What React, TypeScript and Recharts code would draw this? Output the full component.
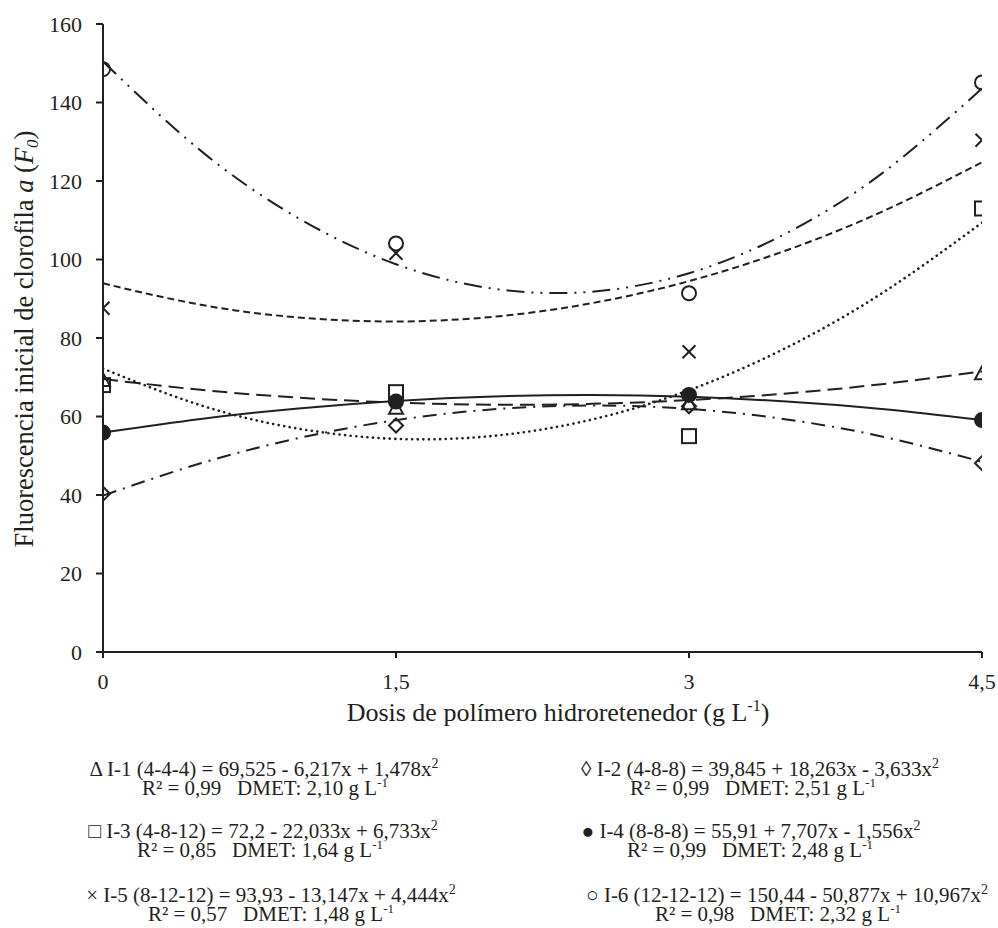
import React from 'react';
import { ComposedChart, Line, Scatter, XAxis, YAxis } from 'recharts';

// observed means at each dose
const DOSES = [0, 1.5, 3, 4.5];
const OBS_I1 = [69.3, 62.2, 63.4, 71.0];
const OBS_I2 = [40.3, 57.7, 62.6, 48.1];
const OBS_I3 = [68.0, 66.2, 55.0, 113.0];
const OBS_I4 = [55.9, 63.8, 65.5, 59.1];
const OBS_I5 = [87.6, 101.6, 76.5, 130.4];
const OBS_I6 = [148.5, 104.1, 91.4, 145.1];

// fitted curves
const FIT_X = [0, 0.5, 1, 1.5, 2, 2.5, 3, 3.5, 4, 4.5];
const FIT_I1 = [69.53, 66.79, 64.79, 63.53, 63.0, 63.22, 64.18, 65.87, 68.31, 71.48];
const FIT_I2 = [39.85, 48.07, 54.48, 59.07, 61.84, 62.8, 61.94, 59.26, 54.77, 48.46];
const FIT_I3 = [72.2, 62.87, 56.9, 54.3, 55.07, 59.2, 66.7, 77.56, 91.8, 109.39];
const FIT_I4 = [55.91, 59.37, 62.06, 63.97, 65.1, 65.45, 65.03, 63.82, 61.84, 59.08];
const FIT_I5 = [93.93, 88.47, 85.23, 84.21, 85.41, 88.84, 94.49, 102.35, 112.45, 124.76];
const FIT_I6 = [150.44, 127.74, 110.53, 98.8, 92.55, 91.79, 96.51, 106.72, 122.4, 143.57];

const X_TICKS = [0, 1.5, 3, 4.5];
const Y_TICKS = [0, 20, 40, 60, 80, 100, 120, 140, 160];

const INK = '#231f20';
const FONT = '"Liberation Serif", "Times New Roman", serif';

type Marker = 'triangle' | 'diamond' | 'square' | 'dot' | 'cross' | 'circle';

const SERIES: { key: string; obs: number[]; fit: number[]; dash?: string; cap?: 'round' | 'butt'; marker: Marker }[] = [
  { key: 'I1', obs: OBS_I1, fit: FIT_I1, dash: '15 7', marker: 'triangle' },
  { key: 'I2', obs: OBS_I2, fit: FIT_I2, dash: '14 7 2 7', marker: 'diamond' },
  { key: 'I3', obs: OBS_I3, fit: FIT_I3, dash: '0.1 5.5', cap: 'round', marker: 'square' },
  { key: 'I4', obs: OBS_I4, fit: FIT_I4, marker: 'dot' },
  { key: 'I5', obs: OBS_I5, fit: FIT_I5, dash: '7 4', marker: 'cross' },
  { key: 'I6', obs: OBS_I6, fit: FIT_I6, dash: '18 7 2 7 2 7', marker: 'circle' },
];

function makeShape(marker: Marker) {
  return (props: any) => {
    const { cx, cy } = props;
    const s = { stroke: INK, strokeWidth: 2, fill: 'none' };
    switch (marker) {
      case 'triangle':
        return <path d={`M${cx},${cy - 7}L${cx + 7},${cy + 6}L${cx - 7},${cy + 6}Z`} {...s} />;
      case 'diamond':
        return <path d={`M${cx},${cy - 7}L${cx + 7},${cy}L${cx},${cy + 7}L${cx - 7},${cy}Z`} {...s} />;
      case 'square':
        return <rect x={cx - 7} y={cy - 7} width={14} height={14} {...s} />;
      case 'dot':
        return <circle cx={cx} cy={cy} r={8} fill={INK} />;
      case 'cross':
        return (
          <g {...s}>
            <line x1={cx - 6.5} y1={cy - 6.5} x2={cx + 6.5} y2={cy + 6.5} />
            <line x1={cx - 6.5} y1={cy + 6.5} x2={cx + 6.5} y2={cy - 6.5} />
          </g>
        );
      default:
        return <circle cx={cx} cy={cy} r={7} {...s} />;
    }
  };
}

const SP = '\u00A0\u00A0\u00A0';

// legend blocks: centre of each line, baseline of the equation line
const LEGEND: { cx: number; y: number; eq: string; r2: string; cx2: number }[] = [
  { cx: 264, cx2: 265, y: 776, eq: 'Δ I-1 (4-4-4) = 69,525 - 6,217x + 1,478x', r2: `R² = 0,99${SP}DMET: 2,10 g L` },
  { cx: 263, cx2: 260, y: 838, eq: '□ I-3 (4-8-12) = 72,2 - 22,033x + 6,733x', r2: `R² = 0,85${SP}DMET: 1,64 g L` },
  { cx: 271, cx2: 271, y: 902, eq: '× I-5 (8-12-12) = 93,93 - 13,147x + 4,444x', r2: `R² = 0,57${SP}DMET: 1,48 g L` },
  { cx: 760, cx2: 753, y: 776, eq: '◊ I-2 (4-8-8) = 39,845 + 18,263x - 3,633x', r2: `R² = 0,99${SP}DMET: 2,51 g L` },
  { cx: 751, cx2: 750, y: 838, eq: '● I-4 (8-8-8) = 55,91 + 7,707x - 1,556x', r2: `R² = 0,99${SP}DMET: 2,48 g L` },
  { cx: 787, cx2: 778, y: 902, eq: '○ I-6 (12-12-12) = 150,44 - 50,877x + 10,967x', r2: `R² = 0,98${SP}DMET: 2,32 g L` },
];

export default function App() {
  const axisTick = { fill: INK, fontSize: 22, fontFamily: FONT };
  return (
    <div style={{ position: 'relative', width: 998, height: 928, background: '#fff' }}>
      <style>{'body{margin:0}'}</style>
      <ComposedChart width={998} height={700} margin={{ top: 24, right: 16, left: 43, bottom: 8 }}>
        <XAxis
          dataKey="x"
          type="number"
          domain={[0, 4.5]}
          ticks={X_TICKS}
          height={40}
          tickSize={6}
          tickMargin={15}
          tick={axisTick}
          tickFormatter={(v: number) => String(v).replace('.', ',')}
          axisLine={{ stroke: INK, strokeWidth: 2 }}
          tickLine={{ stroke: INK, strokeWidth: 2 }}
          allowDataOverflow
        />
        <YAxis
          dataKey="y"
          type="number"
          domain={[0, 160]}
          ticks={Y_TICKS}
          width={60}
          tickSize={7}
          tickMargin={14}
          tick={axisTick}
          axisLine={{ stroke: INK, strokeWidth: 2 }}
          tickLine={{ stroke: INK, strokeWidth: 2 }}
          allowDataOverflow
        />
        {SERIES.map((s) => (
          <Line
            key={`fit-${s.key}`}
            data={FIT_X.map((x, i) => ({ x, y: s.fit[i] }))}
            dataKey="y"
            type="natural"
            stroke={INK}
            strokeWidth={s.cap === 'round' ? 2.6 : 2}
            strokeDasharray={s.dash}
            strokeLinecap={s.cap || 'butt'}
            dot={false}
            activeDot={false}
            isAnimationActive={false}
          />
        ))}
        {SERIES.map((s) => (
          <Scatter
            key={`obs-${s.key}`}
            data={DOSES.map((x, i) => ({ x, y: s.obs[i] }))}
            dataKey="y"
            shape={makeShape(s.marker)}
            isAnimationActive={false}
          />
        ))}
      </ComposedChart>

      <svg
        width={998}
        height={928}
        style={{ position: 'absolute', left: 0, top: 0, pointerEvents: 'none' }}
        fontFamily={FONT}
        fill={INK}
      >
        <text transform="translate(33,339) rotate(-90)" textAnchor="middle" fontSize={26.5}>
          Fluorescencia inicial de clorofila <tspan fontStyle="italic">a</tspan> (
          <tspan fontStyle="italic">F</tspan>
          <tspan fontStyle="italic" fontSize={17} dy={5}>0</tspan>
          <tspan dy={-5}>)</tspan>
        </text>
        <text x={558} y={721} textAnchor="middle" fontSize={26}>
          Dosis de polímero hidroretenedor (g L
          <tspan fontSize={16} dy={-10}>-1</tspan>
          <tspan dy={10}>)</tspan>
        </text>
        {LEGEND.map((l, i) => (
          <g key={i} fontSize={21}>
            <text x={l.cx} y={l.y} textAnchor="middle">
              {l.eq}
              <tspan fontSize={14} dy={-8}>2</tspan>
            </text>
            <text x={l.cx2} y={l.y + 18.5} textAnchor="middle">
              {l.r2}
              <tspan fontSize={13} dy={-8}>-1</tspan>
            </text>
          </g>
        ))}
      </svg>
    </div>
  );
}
